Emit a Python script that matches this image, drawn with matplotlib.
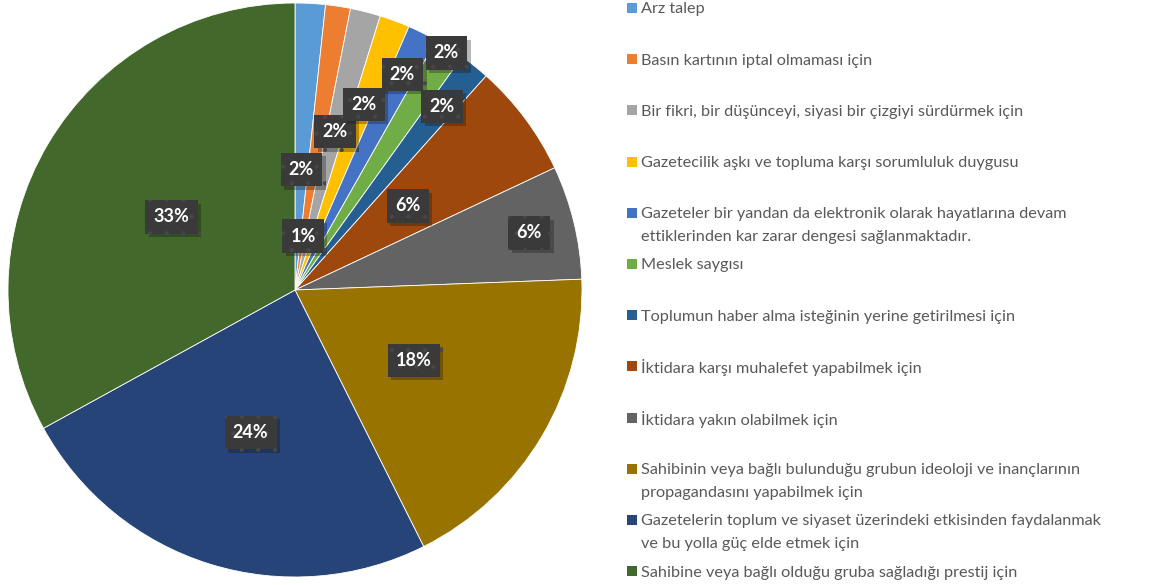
import numpy as np
import matplotlib.pyplot as plt
import matplotlib.patheffects as pe
from matplotlib.patches import Rectangle

categories = [
    "Arz talep",
    "Basın kartının iptal olmaması için",
    "Bir fikri, bir düşünceyi, siyasi bir çizgiyi sürdürmek için",
    "Gazetecilik aşkı ve topluma karşı sorumluluk duygusu",
    "Gazeteler bir yandan da elektronik olarak hayatlarına devam\nettiklerinden kar zarar dengesi sağlanmaktadır.",
    "Meslek saygısı",
    "Toplumun haber alma isteğinin yerine getirilmesi için",
    "İktidara karşı muhalefet yapabilmek için",
    "İktidara yakın olabilmek için",
    "Sahibinin veya bağlı bulunduğu grubun ideoloji ve inançlarının\npropagandasını yapabilmek için",
    "Gazetelerin toplum ve siyaset üzerindeki etkisinden faydalanmak\nve bu yolla güç elde etmek için",
    "Sahibine veya bağlı olduğu gruba sağladığı prestij için",
]
values = [1.7, 1.4, 1.7, 1.7, 1.7, 1.7, 1.7, 6.4, 6.4, 18.2, 24.4, 33.0]
colors = ["#5B9BD5", "#ED7D31", "#A5A5A5", "#FFC000", "#4472C4", "#70AD47",
          "#255E91", "#9E480E", "#636363", "#997300", "#264478", "#43682B"]
# label distance from centre, as fraction of radius
label_r = [0.42, 0.19, 0.57, 0.69, 0.84, 0.98, 0.82, 0.49, 0.84, 0.48, 0.52, 0.50]

W, H = 1152, 585
fig = plt.figure(figsize=(W / 100, H / 100), dpi=100)
cx, cy, R = 295, 290, 287
ax = fig.add_axes([(cx - R) / W, (H - cy - R) / H, 2 * R / W, 2 * R / H])

wedges, _ = ax.pie(values, colors=colors, startangle=90, counterclock=False,
                   radius=1, wedgeprops=dict(edgecolor="white", linewidth=0.6))
ax.set_xlim(-1, 1)
ax.set_ylim(-1, 1)
ax.set_aspect("equal")
ax.set_axis_off()

plt.rcParams["hatch.linewidth"] = 0.6
total = sum(values)
for w, v, r in zip(wedges, values, label_r):
    mid = np.deg2rad((w.theta1 + w.theta2) / 2)
    t = ax.text(r * np.cos(mid), r * np.sin(mid), f"{round(v / total * 100)}%",
                ha="center", va="center", color="white", fontsize=13,
                fontweight="bold", family="Lato",
                bbox=dict(boxstyle="square,pad=0.45", facecolor="#3a3a3a",
                          edgecolor="#474747", linewidth=0, hatch="."))
    t.get_bbox_patch().set_path_effects(
        [pe.withSimplePatchShadow(offset=(2.5, -2.5), alpha=0.3), pe.Normal()])

# legend
x0, y0, step, line_h = 627, 8, 51.2, 22.5
for i, (c, lab) in enumerate(zip(categories, colors)):
    y = y0 + i * step
    fig.patches.append(Rectangle((x0 / W, 1 - (y + 5) / H), 10 / W, 10 / H,
                                 transform=fig.transFigure, facecolor=lab,
                                 edgecolor="none"))
    for k, line in enumerate(c.split("\n")):
        fig.text((x0 + 14) / W, 1 - (y + k * line_h) / H, line, ha="left",
                 va="center_baseline", fontsize=11.7, family="Lato",
                 color="#595959")

fig.savefig("out.png", dpi=100)
